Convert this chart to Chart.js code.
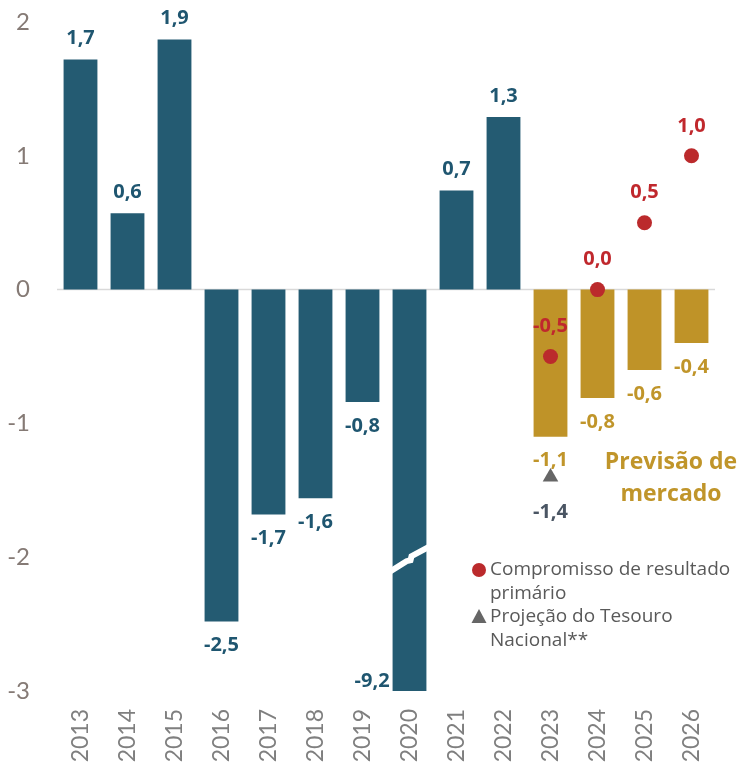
<!DOCTYPE html>
<html>
<head>
<meta charset="utf-8">
<script src="https://cdn.jsdelivr.net/npm/chart.js@4"></script>
<style>
  html, body { margin:0; padding:0; background:#fff; }
  #wrap { position:relative; width:743px; height:766px; }
</style>
</head>
<body>
<div id="wrap"><canvas id="chart"></canvas></div>
<script>
const years = ["2013","2014","2015","2016","2017","2018","2019","2020","2021","2022","2023","2024","2025","2026"];
// resultado primario (% PIB); 2020 bar is cut at the axis bottom
const resultado = [1.72, 0.57, 1.87, -2.48, -1.68, -1.56, -0.84, -9.2, 0.74, 1.29, -1.1, -0.81, -0.6, -0.4];
const compromisso = [null, null, null, null, null, null, null, null, null, null, -0.5, 0.0, 0.5, 1.0];
const tesouro = [null, null, null, null, null, null, null, null, null, null, -1.4, null, null, null];
const yTicks = [-3, -2, -1, 0, 1, 2];
const nHistory = 10; // first 10 years are realised, rest is market forecast

const TEAL = "#245b72", GOLD = "#bf9328", RED = "#bb2a2c", GRAY = "#666666";
const LABEL_FONT = "bold 20px 'Open Sans'";

const fmt = (v) => v.toFixed(1).replace(".", ",");

const labelsPlugin = {
  id: "labels",
  afterDatasetsDraw(chart){
    const ctx = chart.ctx;
    const area = chart.chartArea;
    const yScale = chart.scales.y;
    ctx.save();
    ctx.font = LABEL_FONT;
    ctx.textBaseline = "middle";

    // bar values
    chart.getDatasetMeta(0).data.forEach((el, i) => {
      const v = resultado[i];
      ctx.fillStyle = i < nHistory ? "#1f5670" : "#c0952a";
      if(v < yScale.min){
        // axis break on the clipped bar
        const left = el.x - el.width/2, right = el.x + el.width/2;
        const yb = yScale.getPixelForValue(-2.0);
        ctx.save();
        ctx.strokeStyle = "#fff";
        ctx.lineWidth = 6;
        ctx.lineJoin = "miter";
        ctx.beginPath();
        ctx.moveTo(left - 2, yb + 14);
        ctx.lineTo(el.x - 3, yb + 4);
        ctx.lineTo(el.x + 1, yb + 3);
        ctx.lineTo(el.x + 2, yb - 1);
        ctx.lineTo(right + 2, yb - 10);
        ctx.stroke();
        ctx.restore();
        ctx.textAlign = "right";
        ctx.fillText(fmt(v), left - 3, area.bottom - 10);
      }else{
        ctx.textAlign = "center";
        const y = v >= 0 ? el.y - 21 : el.y + 24;
        ctx.fillText(fmt(v), el.x, y);
      }
    });

    // compromisso labels
    ctx.textAlign = "center";
    ctx.fillStyle = "#c0282d";
    chart.getDatasetMeta(1).data.forEach((el, i) => {
      if(compromisso[i] == null) return;
      ctx.fillText(fmt(compromisso[i]), el.x, el.y - 30);
    });
    // tesouro label
    ctx.fillStyle = "#4a5563";
    chart.getDatasetMeta(2).data.forEach((el, i) => {
      if(tesouro[i] == null) return;
      ctx.fillText(fmt(tesouro[i]), el.x, el.y + 35);
    });

    // forecast caption
    ctx.fillStyle = "#c0952a";
    ctx.font = "bold 23px 'Open Sans'";
    ctx.fillText("Previsão de", 671, 462);
    ctx.fillText("mercado", 671, 494);

    // legend
    ctx.font = "19px 'Open Sans'";
    ctx.fillStyle = "#595959";
    ctx.textAlign = "left";
    ctx.fillText("Compromisso de resultado", 490, 570);
    ctx.fillText("primário", 490, 594);
    ctx.fillText("Projeção do Tesouro", 490, 617);
    ctx.fillText("Nacional**", 490, 641);
    ctx.fillStyle = RED;
    ctx.beginPath();
    ctx.arc(479, 570, 7, 0, Math.PI*2);
    ctx.fill();
    ctx.fillStyle = GRAY;
    ctx.beginPath();
    ctx.moveTo(479, 609);
    ctx.lineTo(486.5, 623);
    ctx.lineTo(471.5, 623);
    ctx.closePath();
    ctx.fill();
    ctx.restore();
  }
};

const zeroLine = {
  id: "zeroLine",
  beforeDatasetsDraw(chart){
    const ctx = chart.ctx, area = chart.chartArea;
    const y = chart.scales.y.getPixelForValue(0);
    ctx.save();
    ctx.strokeStyle = "#d9d9d9";
    ctx.lineWidth = 1.5;
    ctx.beginPath();
    ctx.moveTo(area.left, y);
    ctx.lineTo(area.right, y);
    ctx.stroke();
    ctx.restore();
  }
};

new Chart(document.getElementById("chart"), {
  type: "bar",
  data: {
    labels: years,
    datasets: [
      {
        label: "Resultado primário",
        data: resultado,
        backgroundColor: years.map((_, i) => i < nHistory ? TEAL : GOLD),
        barPercentage: 0.72,
        categoryPercentage: 1,
        order: 2
      },
      {
        type: "line",
        label: "Compromisso de resultado primário",
        data: compromisso,
        showLine: false,
        pointStyle: "circle",
        pointRadius: 7.5,
        pointBackgroundColor: RED,
        pointBorderWidth: 0,
        order: 0
      },
      {
        type: "line",
        label: "Projeção do Tesouro Nacional**",
        data: tesouro,
        showLine: false,
        pointStyle: "triangle",
        pointRadius: 9,
        pointBackgroundColor: GRAY,
        pointBorderWidth: 0,
        order: 1
      }
    ]
  },
  options: {
    responsive: true,
    maintainAspectRatio: false,
    animation: false,
    layout: { padding: { top: 22, right: 28, left: 0, bottom: 0 } },
    plugins: { legend: { display: false }, tooltip: { enabled: false } },
    scales: {
      x: {
        grid: { display: false, drawTicks: false },
        border: { display: false },
        ticks: {
          color: "#7f7f7f",
          font: { family: "Lato", size: 23 },
          minRotation: 90, maxRotation: 90,
          padding: 18
        },
        afterFit(scale){ scale.height = 75; }
      },
      y: {
        min: -3, max: 2,
        grid: { display: false, drawTicks: false },
        border: { display: false },
        afterBuildTicks(scale){ scale.ticks = yTicks.map(v => ({ value: v })); },
        ticks: {
          color: "#857a75",
          font: { family: "Lato", size: 24 },
          padding: 27,
          callback: (v) => String(v)
        },
        afterFit(scale){
          scale.width = 57;
          scale.paddingTop = 0;
          scale.paddingBottom = 0;
        }
      }
    }
  },
  plugins: [zeroLine, labelsPlugin]
});
</script>
</body>
</html>
